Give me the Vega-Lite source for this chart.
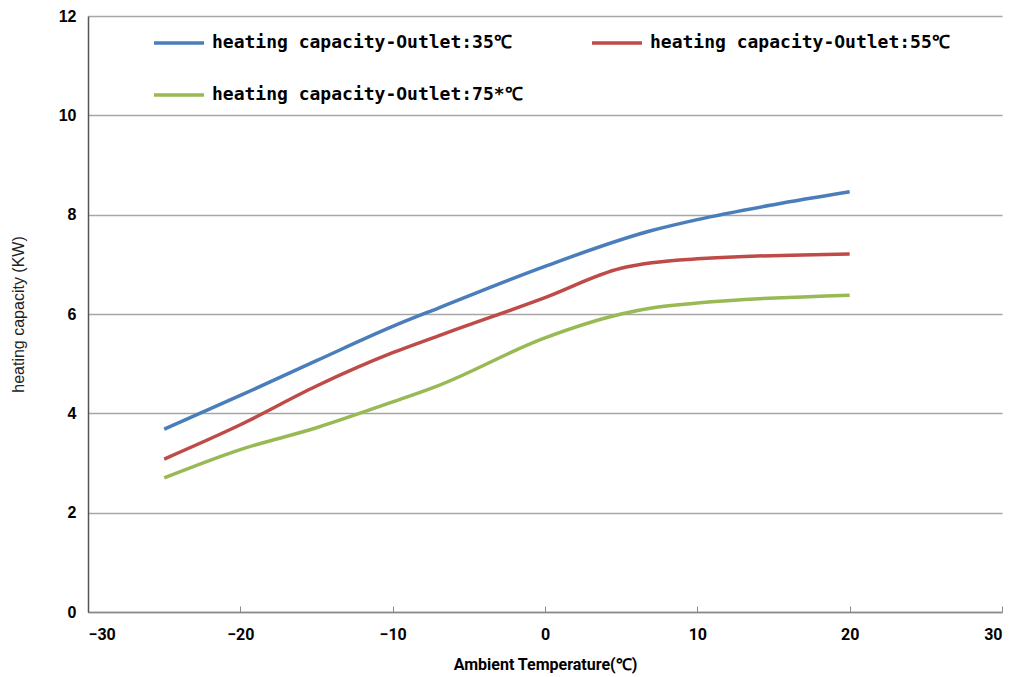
{
  "$schema": "https://vega.github.io/schema/vega-lite/v6.json",
  "autosize": "none",
  "width": 914,
  "height": 596,
  "padding": {"left": 88, "top": 16, "right": 17, "bottom": 65},
  "background": "white",
  "config": {"view": {"stroke": null}},
  "data": {"values": [
    {"series": "heating capacity-Outlet:35℃", "temp": -25, "cap": 3.68},
    {"series": "heating capacity-Outlet:35℃", "temp": -20, "cap": 4.36},
    {"series": "heating capacity-Outlet:35℃", "temp": -15, "cap": 5.06},
    {"series": "heating capacity-Outlet:35℃", "temp": -10, "cap": 5.75},
    {"series": "heating capacity-Outlet:35℃", "temp": -7, "cap": 6.12},
    {"series": "heating capacity-Outlet:35℃", "temp": 0, "cap": 6.96},
    {"series": "heating capacity-Outlet:35℃", "temp": 7, "cap": 7.68},
    {"series": "heating capacity-Outlet:35℃", "temp": 10, "cap": 7.9},
    {"series": "heating capacity-Outlet:35℃", "temp": 15, "cap": 8.2},
    {"series": "heating capacity-Outlet:35℃", "temp": 20, "cap": 8.46},
    {"series": "heating capacity-Outlet:55℃", "temp": -25, "cap": 3.08},
    {"series": "heating capacity-Outlet:55℃", "temp": -20, "cap": 3.77},
    {"series": "heating capacity-Outlet:55℃", "temp": -15, "cap": 4.55},
    {"series": "heating capacity-Outlet:55℃", "temp": -10, "cap": 5.22},
    {"series": "heating capacity-Outlet:55℃", "temp": -7, "cap": 5.56},
    {"series": "heating capacity-Outlet:55℃", "temp": 0, "cap": 6.33},
    {"series": "heating capacity-Outlet:55℃", "temp": 5, "cap": 6.92},
    {"series": "heating capacity-Outlet:55℃", "temp": 7, "cap": 7.03},
    {"series": "heating capacity-Outlet:55℃", "temp": 10, "cap": 7.11},
    {"series": "heating capacity-Outlet:55℃", "temp": 20, "cap": 7.21},
    {"series": "heating capacity-Outlet:75*℃", "temp": -25, "cap": 2.7},
    {"series": "heating capacity-Outlet:75*℃", "temp": -20, "cap": 3.27},
    {"series": "heating capacity-Outlet:75*℃", "temp": -15, "cap": 3.71},
    {"series": "heating capacity-Outlet:75*℃", "temp": -10, "cap": 4.23},
    {"series": "heating capacity-Outlet:75*℃", "temp": -7, "cap": 4.56},
    {"series": "heating capacity-Outlet:75*℃", "temp": 0, "cap": 5.52},
    {"series": "heating capacity-Outlet:75*℃", "temp": 5, "cap": 6.0},
    {"series": "heating capacity-Outlet:75*℃", "temp": 7, "cap": 6.12},
    {"series": "heating capacity-Outlet:75*℃", "temp": 10, "cap": 6.22},
    {"series": "heating capacity-Outlet:75*℃", "temp": 20, "cap": 6.38}
  ]},
  "mark": {"type": "line", "interpolate": "monotone", "strokeWidth": 3.5},
  "encoding": {
    "x": {
      "field": "temp", "type": "quantitative",
      "scale": {"domain": [-30, 30], "nice": false, "zero": false},
      "axis": {
        "values": [-30, -20, -10, 0, 10, 20, 30],
        "grid": false,
        "domainColor": "#888888", "domainWidth": 1.5,
        "tickColor": "#888888", "tickSize": -6, "tickWidth": 1,
        "labelFont": "Liberation Sans Narrow, Roboto, sans-serif",
        "labelFontWeight": "bold", "labelFontSize": 16, "labelColor": "#000000",
        "labelPadding": 20,
        "title": "Ambient Temperature(℃)",
        "titleFont": "Liberation Sans Narrow, Roboto, sans-serif",
        "titleFontWeight": "bold", "titleFontSize": 16, "titleColor": "#000000",
        "titlePadding": 14
      }
    },
    "y": {
      "field": "cap", "type": "quantitative",
      "scale": {"domain": [0, 12], "nice": false},
      "axis": {
        "values": [0, 2, 4, 6, 8, 10, 12],
        "grid": true, "gridColor": "#a6a6a6", "gridWidth": 1.5,
        "domainColor": "#555555", "domainWidth": 1.5,
        "ticks": false,
        "labelFont": "Liberation Sans, Arial, sans-serif",
        "labelFontWeight": "bold", "labelFontSize": 16, "labelColor": "#000000",
        "labelPadding": 12,
        "title": "heating capacity (KW)",
        "titleFont": "Liberation Sans, Arial, sans-serif",
        "titleFontWeight": "normal", "titleFontSize": 16, "titleColor": "#222222",
        "titlePadding": 32
      }
    },
    "color": {
      "field": "series", "type": "nominal",
      "scale": {
        "domain": ["heating capacity-Outlet:35℃", "heating capacity-Outlet:55℃", "heating capacity-Outlet:75*℃"],
        "range": ["#4a7ebb", "#be4b48", "#98b954"]
      },
      "legend": {
        "title": null,
        "orient": "none",
        "legendX": 64,
        "legendY": 0,
        "columns": 2,
        "direction": "horizontal",
        "columnPadding": 62,
        "rowPadding": 16,
        "symbolType": "stroke",
        "symbolSize": 2500,
        "symbolStrokeWidth": 3.5,
        "labelOffset": 6,
        "labelFont": "DejaVu Sans Mono, monospace",
        "labelFontWeight": "bold",
        "labelFontSize": 18,
        "labelColor": "#000000",
        "labelLimit": 500
      }
    }
  }
}
